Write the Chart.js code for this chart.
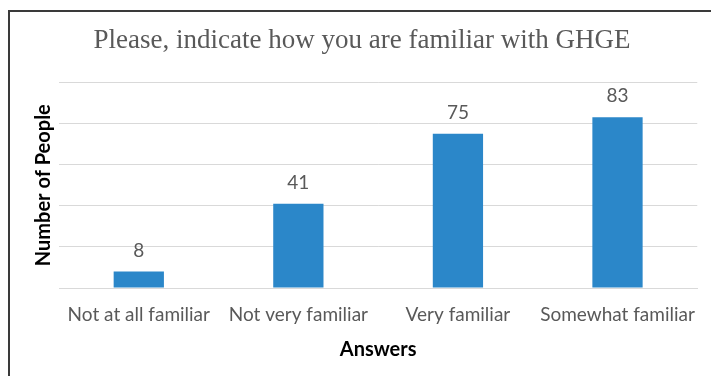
<!DOCTYPE html>
<html>
<head>
<meta charset="utf-8">
<script src="https://cdn.jsdelivr.net/npm/chart.js@4"></script>
<style>
  html, body { margin: 0; padding: 0; background: #fff; }
  #wrap { position: relative; width: 711px; height: 376px; overflow: hidden; }
  #frame { position: absolute; left: 8px; top: 10px; width: 740px; height: 420px;
           border: 2px solid #3a3a3a; box-sizing: border-box; pointer-events: none; }
  canvas { position: absolute; left: 0; top: 0; }
</style>
</head>
<body>
<div id="wrap">
  <canvas id="c" width="711" height="376"></canvas>
  <div id="frame"></div>
</div>
<script>
const categories = ["Not at all familiar", "Not very familiar", "Very familiar", "Somewhat familiar"];
const counts = [8, 41, 75, 83];
const yMin = 0;
const yMax = 100;
const yStep = 20;

const sansFont = "Lato, 'Open Sans', sans-serif";
const textGray = "#595959";

// Writes each bar's value above it
const valueLabels = {
  id: "valueLabels",
  afterDatasetsDraw(chart) {
    const ctx = chart.ctx;
    const meta = chart.getDatasetMeta(0);
    ctx.save();
    ctx.font = "19px " + sansFont;
    ctx.fillStyle = textGray;
    ctx.textAlign = "center";
    ctx.textBaseline = "middle";
    meta.data.forEach((bar, i) => {
      ctx.fillText(String(chart.data.datasets[0].data[i]), bar.x, bar.y - 21);
    });
    ctx.restore();
  }
};

new Chart(document.getElementById("c"), {
  type: "bar",
  data: {
    labels: categories,
    datasets: [{
      data: counts,
      backgroundColor: "#2b87c9",
      borderWidth: 0,
      categoryPercentage: 1,
      barPercentage: 0.315
    }]
  },
  plugins: [valueLabels],
  options: {
    responsive: false,
    animation: false,
    events: [],
    layout: { padding: { left: 22, right: 9, top: 0, bottom: 14 } },
    plugins: {
      legend: { display: false },
      tooltip: { enabled: false },
      title: {
        display: true,
        text: "Please, indicate how you are familiar with GHGE",
        color: textGray,
        font: { family: "'Liberation Serif', 'Times New Roman', serif", size: 27, weight: "normal", lineHeight: 1.2 },
        padding: { top: 25, bottom: 25 }
      }
    },
    scales: {
      x: {
        grid: { display: false, drawTicks: false },
        border: { display: true, color: "#d9d9d9", width: 1 },
        ticks: { color: textGray, font: { family: sansFont, size: 19 }, padding: 15, maxRotation: 0, autoSkip: false },
        title: {
          display: true,
          text: "Answers",
          color: "#000",
          font: { family: sansFont, size: 20, weight: "bold", lineHeight: 1.2 },
          padding: { top: 0, bottom: 0 }
        },
        afterFit(scale) { scale.height = 74; }
      },
      y: {
        min: yMin,
        max: yMax,
        ticks: { stepSize: yStep, display: false },
        grid: { color: "#d9d9d9", lineWidth: 1, drawTicks: false },
        border: { display: false },
        title: {
          display: true,
          text: "Number of People",
          color: "#000",
          font: { family: sansFont, size: 20, weight: "bold", lineHeight: 1.2 },
          padding: { top: 10, bottom: 0 }
        },
        afterFit(scale) { scale.width = 37; }
      }
    }
  }
});
</script>
</body>
</html>
